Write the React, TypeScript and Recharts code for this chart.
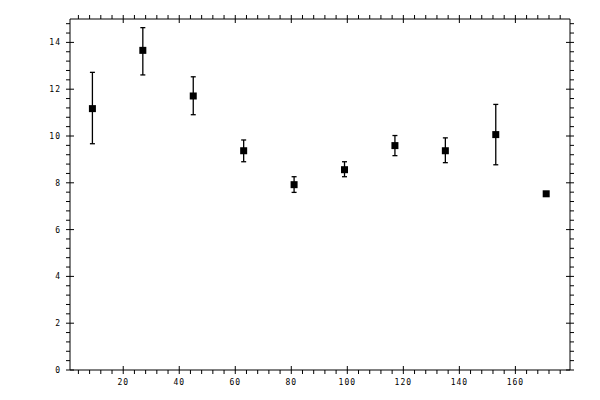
import { ComposedChart, ErrorBar, Scatter, XAxis, YAxis } from "recharts";

const xValues = [9, 27, 45, 63, 81, 99, 117, 135, 153, 171];
const yValues = [11.17, 13.66, 11.71, 9.37, 7.92, 8.56, 9.59, 9.37, 10.06, 7.53];
const upperValues = [12.72, 14.63, 12.53, 9.83, 8.26, 8.9, 10.02, 9.92, 11.35, 7.53];
const lowerValues = [9.67, 12.61, 10.91, 8.9, 7.59, 8.26, 9.16, 8.86, 8.77, 7.53];

// axis ticks: minor every 4 (x) and 0.4 (y), labelled ones every 20 / 2
const xTicks = Array.from({ length: 44 }, (_, i) => (i + 1) * 4);
const yTicks = Array.from({ length: 38 }, (_, i) => Math.round(i * 4) / 10);
const xLabels = [20, 40, 60, 80, 100, 120, 140, 160];
const yLabels = [0, 2, 4, 6, 8, 10, 12, 14];

const data = xValues.map((x, i) => ({
  x,
  y: yValues[i],
  err: [yValues[i] - lowerValues[i], upperValues[i] - yValues[i]],
}));

const labelStyle = {
  fontFamily: "'DejaVu Sans Mono', monospace",
  fontSize: 8,
  letterSpacing: 1,
  fill: "#000",
};

const isXMajor = (v: number) => xLabels.includes(v);
const isYMajor = (v: number) => yLabels.some((l) => Math.abs(l - v) < 1e-6);

const BottomTick = ({ x, y, payload }: any) => {
  const major = isXMajor(payload.value);
  return (
    <g>
      <line x1={x} x2={x} y1={major ? y - 4 : y} y2={y + 4} stroke="#000" />
      {major && (
        <text x={x} y={y + 15} textAnchor="middle" style={labelStyle}>
          {payload.value}
        </text>
      )}
    </g>
  );
};

const TopTick = ({ x, y, payload }: any) => {
  const major = isXMajor(payload.value);
  return <line x1={x} x2={x} y1={y - 4} y2={major ? y + 4 : y} stroke="#000" />;
};

const LeftTick = ({ x, y, payload }: any) => {
  const major = isYMajor(payload.value);
  return (
    <g>
      <line x1={x - 4} x2={major ? x + 4 : x} y1={y} y2={y} stroke="#000" />
      {major && (
        <text x={x - 9} y={y + 3} textAnchor="end" style={labelStyle}>
          {Math.round(payload.value)}
        </text>
      )}
    </g>
  );
};

const RightTick = ({ x, y, payload }: any) => {
  const major = isYMajor(payload.value);
  return <line x1={major ? x - 4 : x} x2={x + 4} y1={y} y2={y} stroke="#000" />;
};

const Square = ({ cx, cy }: any) => (
  <rect x={cx - 3.5} y={cy - 3.5} width={7} height={7} fill="#000" />
);

const Nothing = () => <g />;

export default function App() {
  return (
    <div style={{ position: "absolute", left: 0, top: 0, background: "#fff" }}>
      <ComposedChart
        width={600}
        height={400}
        data={data}
        margin={{ top: 0, right: 0, bottom: 0, left: 0 }}
      >
        <XAxis
          xAxisId="b"
          dataKey="x"
          type="number"
          domain={[1, 179.5]}
          ticks={xTicks}
          interval={0}
          height={30}
          tickSize={0}
          tickMargin={0}
          tickLine={false}
          tick={<BottomTick />}
          axisLine={{ stroke: "#000" }}
        />
        <XAxis
          xAxisId="t"
          orientation="top"
          dataKey="x"
          type="number"
          domain={[1, 179.5]}
          ticks={xTicks}
          interval={0}
          height={19}
          tickSize={0}
          tickMargin={0}
          tickLine={false}
          tick={<TopTick />}
          axisLine={{ stroke: "#000" }}
        />
        <YAxis
          yAxisId="l"
          type="number"
          domain={[0, 15]}
          ticks={yTicks}
          interval={0}
          width={70}
          tickSize={0}
          tickMargin={0}
          tickLine={false}
          tick={<LeftTick />}
          axisLine={{ stroke: "#000" }}
        />
        <YAxis
          yAxisId="r"
          orientation="right"
          type="number"
          domain={[0, 15]}
          ticks={yTicks}
          interval={0}
          width={30}
          tickSize={0}
          tickMargin={0}
          tickLine={false}
          tick={<RightTick />}
          axisLine={{ stroke: "#000" }}
        />
        {/* invisible twin so the top and right frame axes get their ticks */}
        <Scatter
          xAxisId="t"
          yAxisId="r"
          dataKey="y"
          shape={<Nothing />}
          isAnimationActive={false}
        />
        <Scatter
          xAxisId="b"
          yAxisId="l"
          dataKey="y"
          shape={<Square />}
          isAnimationActive={false}
        >
          <ErrorBar
            dataKey="err"
            direction="y"
            width={2.5}
            stroke="#000"
            strokeWidth={1.3}
            isAnimationActive={false}
          />
        </Scatter>
      </ComposedChart>
    </div>
  );
}
